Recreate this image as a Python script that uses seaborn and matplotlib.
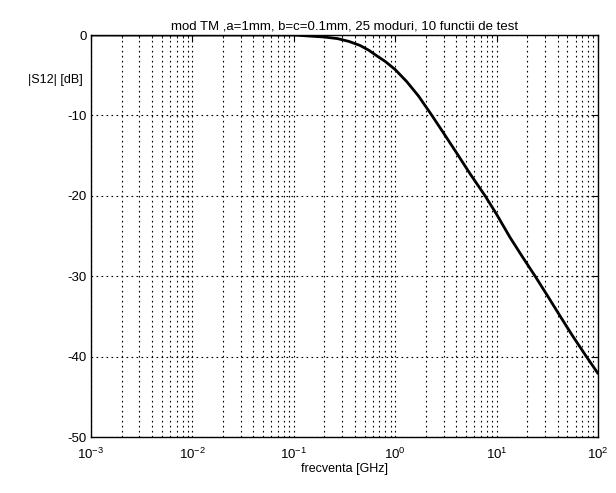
import matplotlib
matplotlib.use("Agg")
import matplotlib.pyplot as plt
import matplotlib.ticker as mticker
import seaborn as sns
import pandas as pd

freq_ghz = [0.001, 0.01, 0.05, 0.1, 0.15, 0.2, 0.27, 0.35, 0.45, 0.55, 0.66, 0.8,
            1.0, 1.3, 1.7, 2.3, 3.0, 4.0, 5.5, 7.7, 10, 13.6, 18, 24, 32, 42, 56, 75, 100]
s12_db = [0, 0, 0, 0, -0.15, -0.25, -0.45, -0.8, -1.3, -1.9, -2.6, -3.3,
          -4.3, -5.8, -7.6, -10, -12.2, -14.6, -17.3, -20, -22.3, -25.2, -27.6, -30,
          -32.5, -34.9, -37.4, -39.8, -42.1]
y_ticks = [0, -10, -20, -30, -40, -50]

title_text = "mod TM ,a=1mm, b=c=0.1mm, 25 moduri, 10 functii de test"
x_label = "frecventa [GHz]"
y_label = "|S12| [dB]"

sns.set_theme(style="white")
plt.rcParams['font.family'] = ['Liberation Sans', 'DejaVu Sans']
plt.rcParams['mathtext.fontset'] = 'custom'
plt.rcParams['mathtext.rm'] = 'Liberation Sans'
plt.rcParams['mathtext.it'] = 'Liberation Sans'
plt.rcParams['axes.unicode_minus'] = False

df = pd.DataFrame({"f": freq_ghz, "s": s12_db})

fig = plt.figure(figsize=(6.16, 4.93), dpi=100)
ax = fig.add_axes([91/616, 1-437/493, (598-91)/616, (437-35)/493])

sns.lineplot(data=df, x="f", y="s", ax=ax, color="black", linewidth=2.0)

ax.set_xscale("log")
ax.set_xlim(1e-3, 1e2)
ax.set_ylim(-50, 0)
ax.set_yticks(y_ticks)
ax.xaxis.set_major_locator(mticker.LogLocator(base=10, numticks=10))
ax.xaxis.set_minor_locator(mticker.LogLocator(base=10, subs=range(2, 10), numticks=100))
ax.xaxis.set_minor_formatter(mticker.NullFormatter())

ax.grid(True, which="major", axis="both", color="black", linestyle=(0, (1.5, 3)), linewidth=0.8)
ax.grid(True, which="minor", axis="x", color="black", linestyle=(0, (1.5, 3)), linewidth=0.8)

ax.tick_params(axis="both", which="both", direction="in", top=True, right=True,
               labelsize=9.5, colors="black")
ax.tick_params(which="major", length=4, width=0.8)
ax.tick_params(axis="y", which="major", pad=3)
ax.tick_params(axis="x", which="major", pad=7)
ax.tick_params(which="minor", length=2, width=0.6)
for sp in ax.spines.values():
    sp.set_color("black")
    sp.set_linewidth(1.0)
    sp.set_visible(True)

ax.set_xlabel(x_label, fontsize=9, color="black", labelpad=1)
ax.set_ylabel("")
ax.set_title(title_text, fontsize=9.5, color="black", pad=4)
fig.text(83/616, 1-80/493, y_label, ha="right", va="center", fontsize=9, color="black")

fig.savefig("out.png", dpi=100, facecolor="white")
